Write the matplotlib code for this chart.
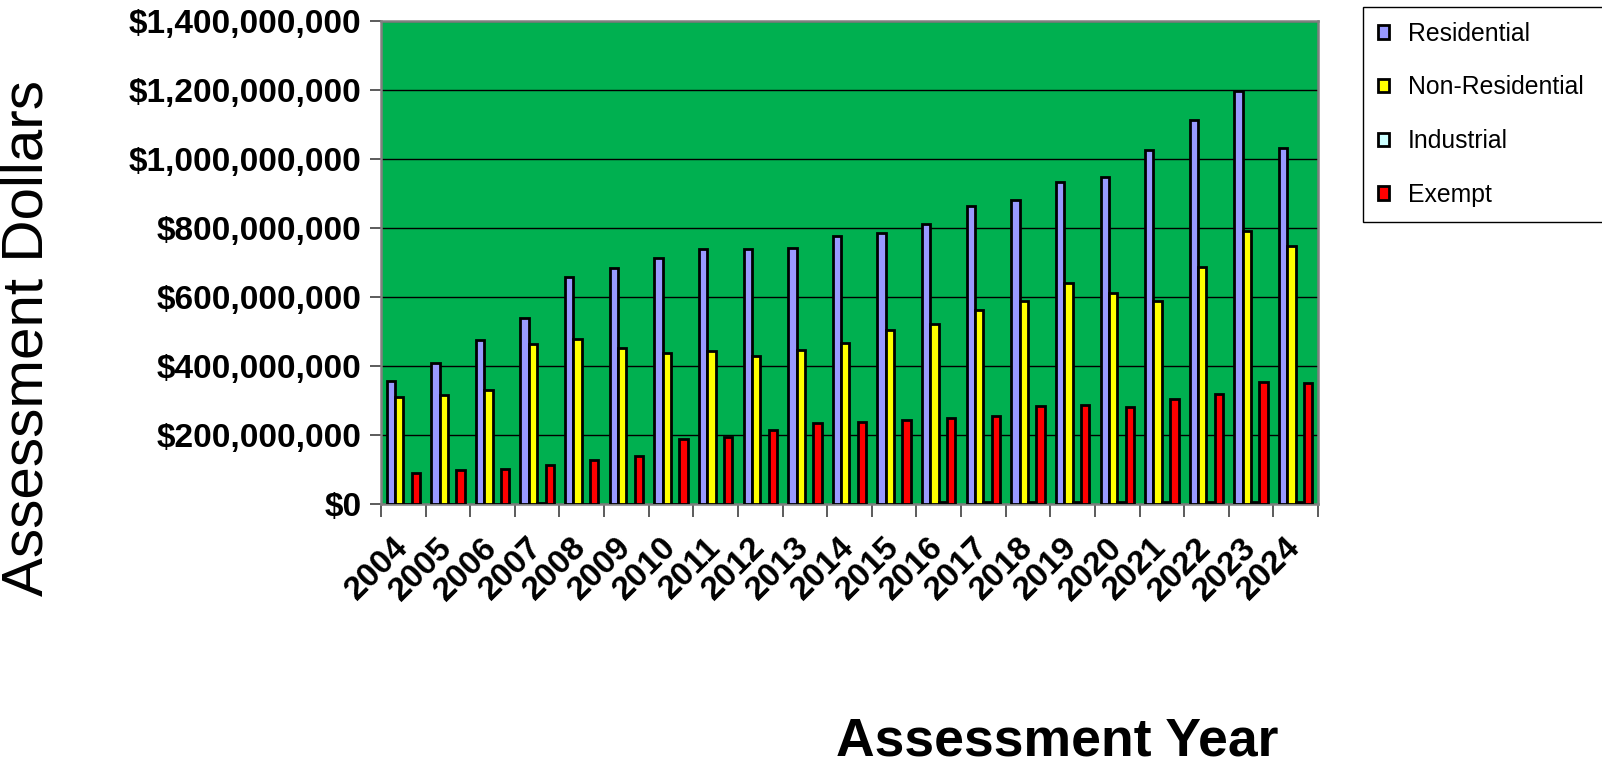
import numpy as np
import matplotlib.pyplot as plt
from matplotlib.ticker import FuncFormatter, FixedLocator

plt.rcParams['font.family'] = ['Liberation Sans', 'DejaVu Sans']

years = [str(y) for y in range(2004, 2025)]
residential = [357e6, 410e6, 476e6, 538e6, 657e6, 684e6, 713e6, 740e6, 740e6, 743e6,
               776e6, 785e6, 811e6, 865e6, 880e6, 933e6, 948e6, 1025e6, 1112e6, 1198e6, 1031e6]
non_residential = [309e6, 315e6, 330e6, 464e6, 478e6, 452e6, 437e6, 443e6, 428e6, 446e6,
                   467e6, 505e6, 523e6, 562e6, 588e6, 642e6, 612e6, 588e6, 687e6, 790e6, 749e6]
industrial = [1e6, 1e6, 1e6, 2e6, 1e6, 1e6, 1e6, 1e6, 1e6, 1e6,
              1e6, 1e6, 5e6, 6e6, 6e6, 6e6, 6e6, 6e6, 6e6, 6e6, 6e6]
exempt = [89e6, 98e6, 101e6, 113e6, 128e6, 140e6, 187e6, 193e6, 214e6, 235e6,
          238e6, 244e6, 250e6, 256e6, 285e6, 288e6, 282e6, 303e6, 318e6, 354e6, 351e6]

series = [('Residential', residential, '#9999FF'),
          ('Non-Residential', non_residential, '#FFFF00'),
          ('Industrial', industrial, '#CCFFFF'),
          ('Exempt', exempt, '#FF0000')]

fig = plt.figure(figsize=(16.02, 7.67), dpi=100, facecolor='w')
W, H = 1602, 767
ax = fig.add_axes([381 / W, 1 - 504 / H, (1318 - 381) / W, (504 - 21) / H])
ax.set_facecolor('#00B050')

x = np.arange(len(years))
w = 0.187
handles = []
for i, (name, vals, col) in enumerate(series):
    b = ax.bar(x + (i - 1.5) * w, vals, width=w, color=col, edgecolor='black',
               linewidth=2.0, label=name, zorder=3)
    handles.append(b)

ax.set_xlim(-0.5, len(years) - 0.5)
ax.set_ylim(0, 1.4e9)
ax.set_yticks(np.arange(0, 1.41e9, 2e8))
ax.yaxis.set_major_formatter(FuncFormatter(lambda v, p: '${:,.0f}'.format(v)))
ax.grid(axis='y', color='black', linewidth=1.0, zorder=1)

ax.xaxis.set_major_locator(FixedLocator(np.arange(-0.5, len(years), 1.0)))
ax.xaxis.set_minor_locator(FixedLocator(x))
ax.set_xticklabels([])
ax.set_xticklabels(years, minor=True)
ax.tick_params(axis='x', which='major', length=9, width=1.2, color='#404040', direction='out')
ax.tick_params(axis='x', which='minor', length=0, pad=28)
ax.tick_params(axis='y', length=8, width=1.2, color='#404040', labelsize=24, pad=6)
for lab in ax.get_yticklabels():
    lab.set_fontweight('bold')
for lab in ax.get_xticklabels(minor=True):
    lab.set_fontsize(24)
    lab.set_fontweight('bold')
    lab.set_rotation(45)
    lab.set_rotation_mode('anchor')
    lab.set_ha('right')
    lab.set_va('center')

for s in ax.spines.values():
    s.set_color('#808080')
    s.set_linewidth(1.8)

fig.text(28 / W, 1 - 338 / H, 'Assessment Dollars', rotation=90, fontsize=42,
         ha='center', va='center')
fig.text(1057 / W, 1 - 742 / H, 'Assessment Year', fontsize=38.5, fontweight='bold',
         ha='center', va='center')

leg = fig.legend(handles=handles, loc='upper left',
                 bbox_to_anchor=(1363 / W, 1 - 7 / H, 0.2, 0), mode='expand',
                 fontsize=17.8, handlelength=0.45, handleheight=0.45, handletextpad=0.75,
                 labelspacing=1.2, borderpad=0.6, borderaxespad=0, fancybox=False,
                 edgecolor='black', framealpha=1)
leg.get_frame().set_linewidth(1.0)

fig.savefig('out.png', dpi=100, facecolor='w')
